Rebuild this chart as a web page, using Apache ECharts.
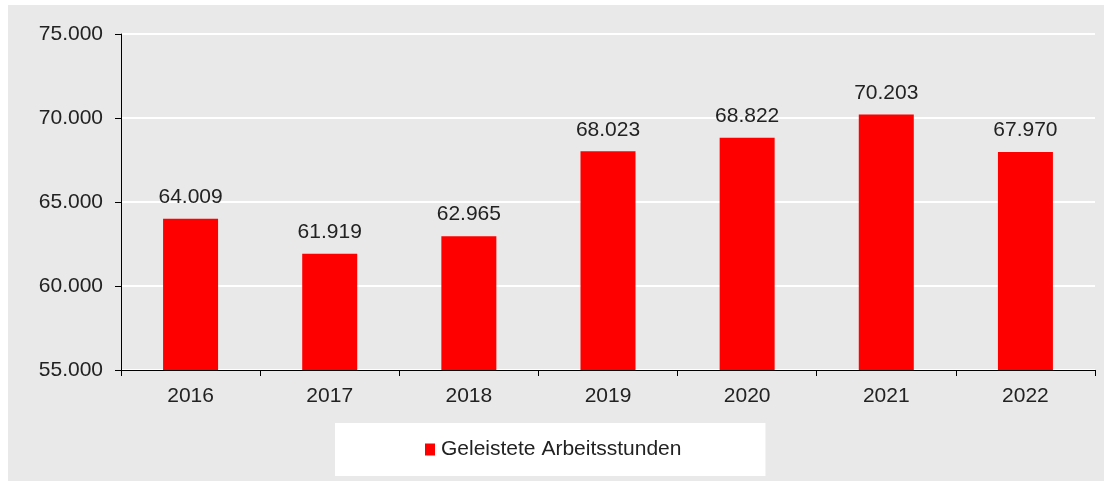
<!DOCTYPE html>
<html>
<head>
<meta charset="utf-8">
<script src="https://cdn.jsdelivr.net/npm/echarts@6/dist/echarts.min.js"></script>
<style>
  html, body { margin: 0; padding: 0; background: #fff; }
  #chart { width: 1112px; height: 481px; }
</style>
</head>
<body>
<div id="chart"></div>
<script>
// data
const years = ['2016', '2017', '2018', '2019', '2020', '2021', '2022'];
const hours = [64009, 61919, 62965, 68023, 68822, 70203, 67970];
const seriesName = 'Geleistete Arbeitsstunden';

// german thousands separator
function fmt(v) {
  return String(Math.round(v)).replace(/\B(?=(\d{3})+(?!\d))/g, '.');
}

const font = 'Liberation Sans, Arial, sans-serif';

const chart = echarts.init(document.getElementById('chart'));
chart.setOption({
  animation: false,
  textStyle: { fontFamily: font },
  graphic: [
    {
      type: 'rect',
      z: -10,
      silent: true,
      shape: { x: 8, y: 5, width: 1096, height: 476 },
      style: { fill: '#e9e9e9' }
    }
  ],
  grid: {
    left: 121,
    right: 17,
    top: 34,
    bottom: 111
  },
  legend: {
    left: 335,
    top: 423,
    padding: [16, 84, 16, 90],
    backgroundColor: '#fff',
    itemWidth: 10,
    itemHeight: 12,
    itemGap: 0,
    icon: 'rect',
    textStyle: { fontSize: 21, color: '#222', fontFamily: font, padding: [0, 0, 0, 1] },
    data: [seriesName]
  },
  xAxis: {
    type: 'category',
    data: years,
    axisLine: { lineStyle: { color: '#000', width: 1 } },
    axisTick: { show: true, length: 6, alignWithLabel: false, lineStyle: { color: '#000' } },
    axisLabel: { color: '#222', fontSize: 21, margin: 16, fontFamily: font },
    splitLine: { show: false }
  },
  yAxis: {
    type: 'value',
    min: 55000,
    max: 75000,
    interval: 5000,
    axisLine: { show: true, lineStyle: { color: '#000', width: 1 } },
    axisTick: { show: true, length: 6, lineStyle: { color: '#000' } },
    axisLabel: {
      color: '#222',
      fontSize: 21,
      margin: 18,
      fontFamily: font,
      formatter: fmt
    },
    splitLine: { show: true, lineStyle: { color: '#fff', width: 2 } }
  },
  series: [
    {
      name: seriesName,
      type: 'bar',
      data: hours,
      barWidth: 55,
      itemStyle: { color: '#ff0000' },
      label: {
        show: true,
        position: 'top',
        distance: 11,
        color: '#222',
        fontSize: 21,
        fontFamily: font,
        formatter: p => fmt(p.value)
      }
    }
  ]
});
</script>
</body>
</html>
